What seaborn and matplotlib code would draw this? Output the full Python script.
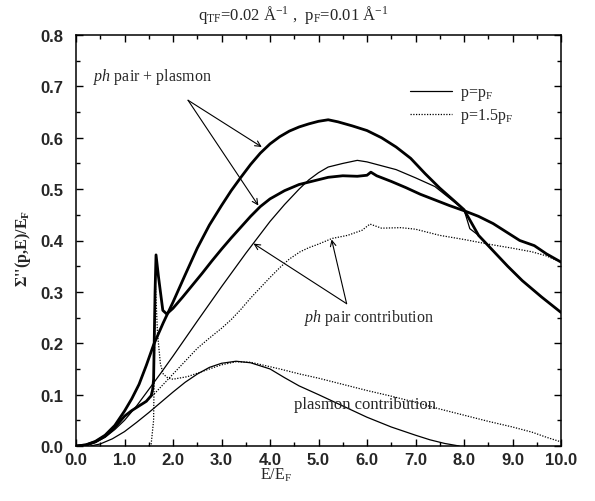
import numpy as np
import matplotlib
matplotlib.use("Agg")
import matplotlib.pyplot as plt
import seaborn as sns

# p = pF, total (ph pair + plasmon)
tot_pf_x = [0, 0.2, 0.4, 0.6, 0.8, 1.0, 1.15, 1.3, 1.45, 1.6, 1.8, 2.0, 2.25, 2.5, 2.75, 3.0, 3.2,
            3.4, 3.6, 3.8, 4.0, 4.2, 4.4, 4.6, 4.8, 5.0, 5.2, 5.4, 5.7, 6.0, 6.3, 6.6, 6.9, 7.2,
            7.5, 7.8, 8.0, 8.15, 8.3, 8.6, 8.9, 9.2, 9.6, 10.0]
tot_pf_y = [0, 0.002, 0.009, 0.021, 0.04, 0.068, 0.092, 0.12, 0.157, 0.197, 0.24, 0.28, 0.333,
            0.385, 0.43, 0.468, 0.497, 0.523, 0.548, 0.57, 0.588, 0.602, 0.613, 0.621, 0.627,
            0.632, 0.635, 0.631, 0.623, 0.614, 0.6, 0.582, 0.56, 0.53, 0.502, 0.477, 0.46, 0.435,
            0.41, 0.38, 0.35, 0.322, 0.29, 0.26]

# p = pF, ph pair contribution
ph_pf_x = [0.2, 0.4, 0.6, 0.8, 1.0, 1.25, 1.5, 1.75, 2.0, 2.5, 3.0, 3.5, 4.0, 4.3, 4.6, 4.8, 5.0,
           5.2, 5.5, 5.8, 6.0, 6.2, 6.6, 7.0, 7.4, 7.8, 8.0, 8.12, 8.3, 8.6, 8.9, 9.2, 9.6, 10.0]
ph_pf_y = [0, 0.007, 0.017, 0.032, 0.05, 0.078, 0.11, 0.142, 0.175, 0.243, 0.31, 0.375, 0.437,
           0.47, 0.5, 0.518, 0.532, 0.543, 0.55, 0.556, 0.553, 0.548, 0.538, 0.522, 0.505, 0.475,
           0.46, 0.423, 0.41, 0.38, 0.35, 0.322, 0.29, 0.26]

# p = pF, plasmon contribution
pl_pf_x = [0.3, 0.5, 0.75, 1.0, 1.25, 1.5, 1.75, 2.0, 2.25, 2.5, 2.75, 3.0, 3.3, 3.6, 4.0, 4.3,
           4.6, 5.0, 5.5, 6.0, 6.5, 7.0, 7.3, 7.6, 7.9]
pl_pf_y = [0, 0.004, 0.014, 0.028, 0.046, 0.065, 0.085, 0.105, 0.124, 0.14, 0.153, 0.161, 0.165,
           0.162, 0.15, 0.133, 0.117, 0.1, 0.078, 0.056, 0.037, 0.021, 0.012, 0.005, 0.0]

# p = 1.5 pF, total (ph pair + plasmon)
tot_15_x = [0, 0.2, 0.4, 0.6, 0.8, 1.0, 1.15, 1.3, 1.45, 1.55, 1.58, 1.6, 1.63, 1.65, 1.7, 1.79,
            1.87, 2.0, 2.2, 2.4, 2.6, 2.8, 3.0, 3.2, 3.4, 3.6, 3.8, 4.0, 4.3, 4.6, 4.9, 5.2, 5.5,
            5.8, 6.0, 6.08, 6.2, 6.5, 6.8, 7.1, 7.4, 7.7, 8.0, 8.3, 8.6, 8.9, 9.15, 9.45, 9.7, 10.0]
tot_15_y = [0, 0.002, 0.008, 0.019, 0.036, 0.058, 0.069, 0.078, 0.087, 0.098, 0.11, 0.13, 0.3,
            0.372, 0.33, 0.264, 0.257, 0.268, 0.29, 0.313, 0.336, 0.36, 0.383, 0.405, 0.426,
            0.447, 0.466, 0.481, 0.497, 0.509, 0.516, 0.523, 0.526, 0.525, 0.527, 0.533, 0.526,
            0.515, 0.503, 0.49, 0.479, 0.468, 0.458, 0.447, 0.433, 0.415, 0.4, 0.39, 0.374, 0.358]

# p = 1.5 pF, ph pair contribution
ph_15_x = [0, 0.2, 0.4, 0.6, 0.8, 1.0, 1.15, 1.3, 1.45, 1.6, 1.8, 2.0, 2.25, 2.5, 2.75, 3.0, 3.2,
           3.4, 3.6, 3.8, 4.0, 4.2, 4.4, 4.62, 4.8, 5.0, 5.28, 5.6, 5.9, 6.06, 6.3, 6.7, 7.0, 7.5,
           8.0, 8.5, 9.0, 9.4, 9.7, 10.0]
ph_15_y = [0, 0.002, 0.008, 0.019, 0.036, 0.058, 0.069, 0.078, 0.087, 0.1, 0.12, 0.14, 0.165, 0.19,
           0.21, 0.229, 0.246, 0.266, 0.288, 0.308, 0.328, 0.347, 0.364, 0.378, 0.386, 0.393,
           0.404, 0.41, 0.42, 0.432, 0.424, 0.425, 0.422, 0.41, 0.402, 0.393, 0.385, 0.378, 0.37,
           0.358]

# p = 1.5 pF, plasmon contribution
pl_15_x = [1.5, 1.55, 1.6, 1.62, 1.64, 1.68, 1.74, 1.8, 1.9, 2.0, 2.3, 2.6, 3.0, 3.3, 3.6, 4.2,
           4.62, 5.0, 5.5, 6.0, 6.5, 7.0, 7.5, 8.0, 8.5, 9.0, 9.4, 9.7, 10.0]
pl_15_y = [0, 0.004, 0.05, 0.2, 0.31, 0.22, 0.16, 0.14, 0.132, 0.13, 0.135, 0.145, 0.158, 0.164,
           0.163, 0.15, 0.14, 0.132, 0.12, 0.108, 0.097, 0.085, 0.072, 0.06, 0.048, 0.037, 0.027,
           0.017, 0.008]

sns.set_style("ticks")
plt.rcParams["mathtext.fontset"] = "custom"
plt.rcParams["mathtext.rm"] = "Liberation Serif"
plt.rcParams["mathtext.it"] = "Liberation Serif:italic"
plt.rcParams["mathtext.bf"] = "Liberation Serif:bold"

fig = plt.figure(figsize=(5.95, 5.02), dpi=100)
ax = fig.add_axes([76 / 595, 1 - 447 / 502, 485 / 595, 411 / 502])

thick = 2.0
thin = 0.9
dot = (0, (1, 1.2))

sns.lineplot(x=tot_pf_x, y=tot_pf_y, estimator=None, sort=False, color="black", linewidth=thick, ax=ax)
sns.lineplot(x=tot_15_x, y=tot_15_y, estimator=None, sort=False, color="black", linewidth=thick, ax=ax)
sns.lineplot(x=ph_pf_x, y=ph_pf_y, estimator=None, sort=False, color="black", linewidth=thin, ax=ax)
sns.lineplot(x=pl_pf_x, y=pl_pf_y, estimator=None, sort=False, color="black", linewidth=thin, ax=ax)
sns.lineplot(x=ph_15_x, y=ph_15_y, estimator=None, sort=False, color="black", linewidth=thin,
             linestyle=dot, ax=ax)
sns.lineplot(x=pl_15_x, y=pl_15_y, estimator=None, sort=False, color="black", linewidth=thin,
             linestyle=dot, ax=ax)

ax.set_xlim(0, 10)
ax.set_ylim(0, 0.8)
ax.set_xticks(np.arange(0, 10.01, 1.0))
ax.set_xticks(np.arange(0, 10.01, 0.5), minor=True)
ax.set_yticks(np.arange(0, 0.801, 0.1))
ax.set_yticks(np.arange(0, 0.801, 0.05), minor=True)
ax.set_xticklabels([f"{v:.1f}" for v in np.arange(0, 10.01, 1.0)])
ax.set_yticklabels([f"{v:.1f}" for v in np.arange(0, 0.801, 0.1)])
ax.tick_params(which="both", direction="in", top=True, right=True, color="black", width=1.0)
ax.tick_params(which="major", length=5)
ax.tick_params(which="minor", length=3)
ax.tick_params(axis="y", pad=9)
ax.tick_params(axis="x", pad=4)
for lab in ax.get_xticklabels() + ax.get_yticklabels():
    lab.set_fontfamily("Liberation Sans")
    lab.set_fontweight("bold")
    lab.set_fontsize(12)
for sp in ax.spines.values():
    sp.set_linewidth(1.1)
    sp.set_color("black")

ax.set_xlabel(r"E/E$_\mathrm{F}$", fontfamily="Liberation Serif", fontsize=11.5)
ax.xaxis.set_label_coords(0.412, -0.047)
ax.set_ylabel(r"$\mathbf{\Sigma}$''(p,E)/E$_\mathbf{F}$", fontfamily="Liberation Serif",
              fontweight="bold", fontsize=11.5)
ax.yaxis.set_label_coords(-0.088, 0.484)

fig.text(293 / 595, 1 - 15 / 502, r"q$_\mathrm{TF}$=0.02 Å$^{-1}$ ,  p$_\mathrm{F}$=0.01 Å$^{-1}$",
         ha="center", va="center", fontfamily="Liberation Serif", fontsize=12)

serif = dict(fontfamily="Liberation Serif", fontsize=11.5)
arrow = dict(arrowstyle="->", color="black", lw=0.8, shrinkA=0, shrinkB=0)

ax.text(0.35, 0.721, r"$ph$ pair + plasmon", ha="left", va="center", **serif)
ax.annotate("", xy=(3.83, 0.582), xytext=(2.31, 0.673), arrowprops=arrow)
ax.annotate("", xy=(3.76, 0.468), xytext=(2.31, 0.673), arrowprops=arrow)

ax.text(6.04, 0.251, r"$ph$ pair contribution", ha="center", va="center", **serif)
ax.annotate("", xy=(3.66, 0.394), xytext=(5.58, 0.277), arrowprops=arrow)
ax.annotate("", xy=(5.27, 0.402), xytext=(5.58, 0.277), arrowprops=arrow)

ax.text(5.96, 0.082, "plasmon contribution", ha="center", va="center",
        fontfamily="Liberation Serif", fontsize=12)

h_solid = plt.Line2D([], [], color="black", linewidth=thin)
h_dot = plt.Line2D([], [], color="black", linewidth=thin, linestyle=dot)
ax.legend([h_solid, h_dot], [r"p=p$_\mathrm{F}$", r"p=1.5p$_\mathrm{F}$"], loc="upper left",
          bbox_to_anchor=(0.66, 0.915), frameon=False, handlelength=2.6, handletextpad=0.5,
          labelspacing=0.25, prop={"family": "Liberation Serif", "size": 11.5})

fig.savefig("out.png", dpi=100)
